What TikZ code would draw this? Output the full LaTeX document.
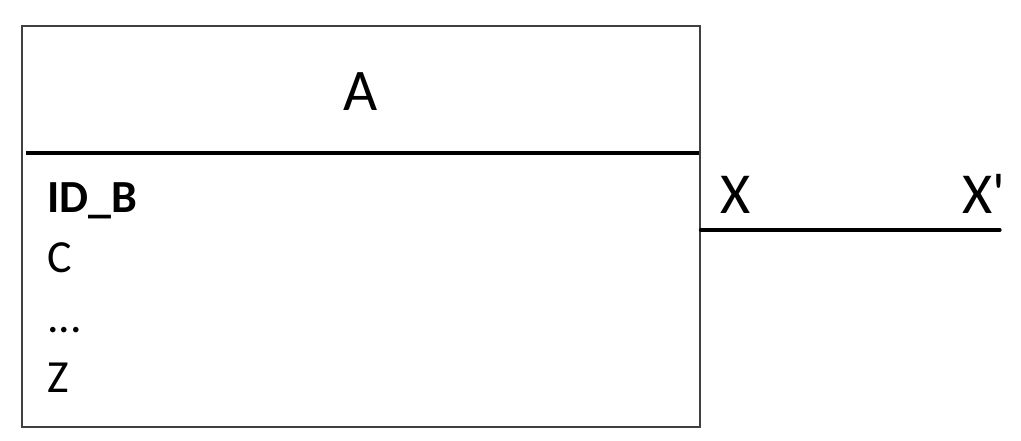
\documentclass[tikz,border=0pt]{standalone}
\usepackage{fontspec}
\setmainfont{Carlito}
\begin{document}
\begin{tikzpicture}[x=1pt,y=-1pt,
  boxline/.style={draw=black!75,line width=1.5pt},
  thickline/.style={draw=black,line width=3.2pt},
  bigtext/.style={font=\fontsize{59}{59}\selectfont,inner sep=0pt},
  attrtext/.style={font=\fontsize{46}{46}\selectfont,inner sep=0pt,anchor=base west},
  rtext/.style={font=\fontsize{58}{58}\selectfont,inner sep=0pt,anchor=base west}]
\useasboundingbox (0,0) rectangle (1021,440);
\node[boxline,minimum width=678pt,minimum height=401pt,inner sep=0pt,anchor=north west] (box) at (21,25) {};
\coordinate (hl) at (26,153);
\coordinate (hr) at (699,153);
\draw[thickline] (hl) -- (hr);
\node[bigtext,anchor=base] (A) at (361,110) {A};
\node[attrtext] (idb) at (47,212) {\textbf{ID\_B}};
\node[attrtext] (c) at (47,272) {C};
\node[attrtext] (dots) at (47,332) {...};
\node[attrtext] (z) at (47,392) {Z};
\coordinate (cs) at (box.east |- 0,230);
\coordinate (ce) at (1000,230);
\draw[thickline,line cap=round] (cs) -- (ce);
\node[rtext] (x) at (720,213) {X};
\node[rtext] (xp) at (962,213) {X\textquotesingle};
\end{tikzpicture}
\end{document}
